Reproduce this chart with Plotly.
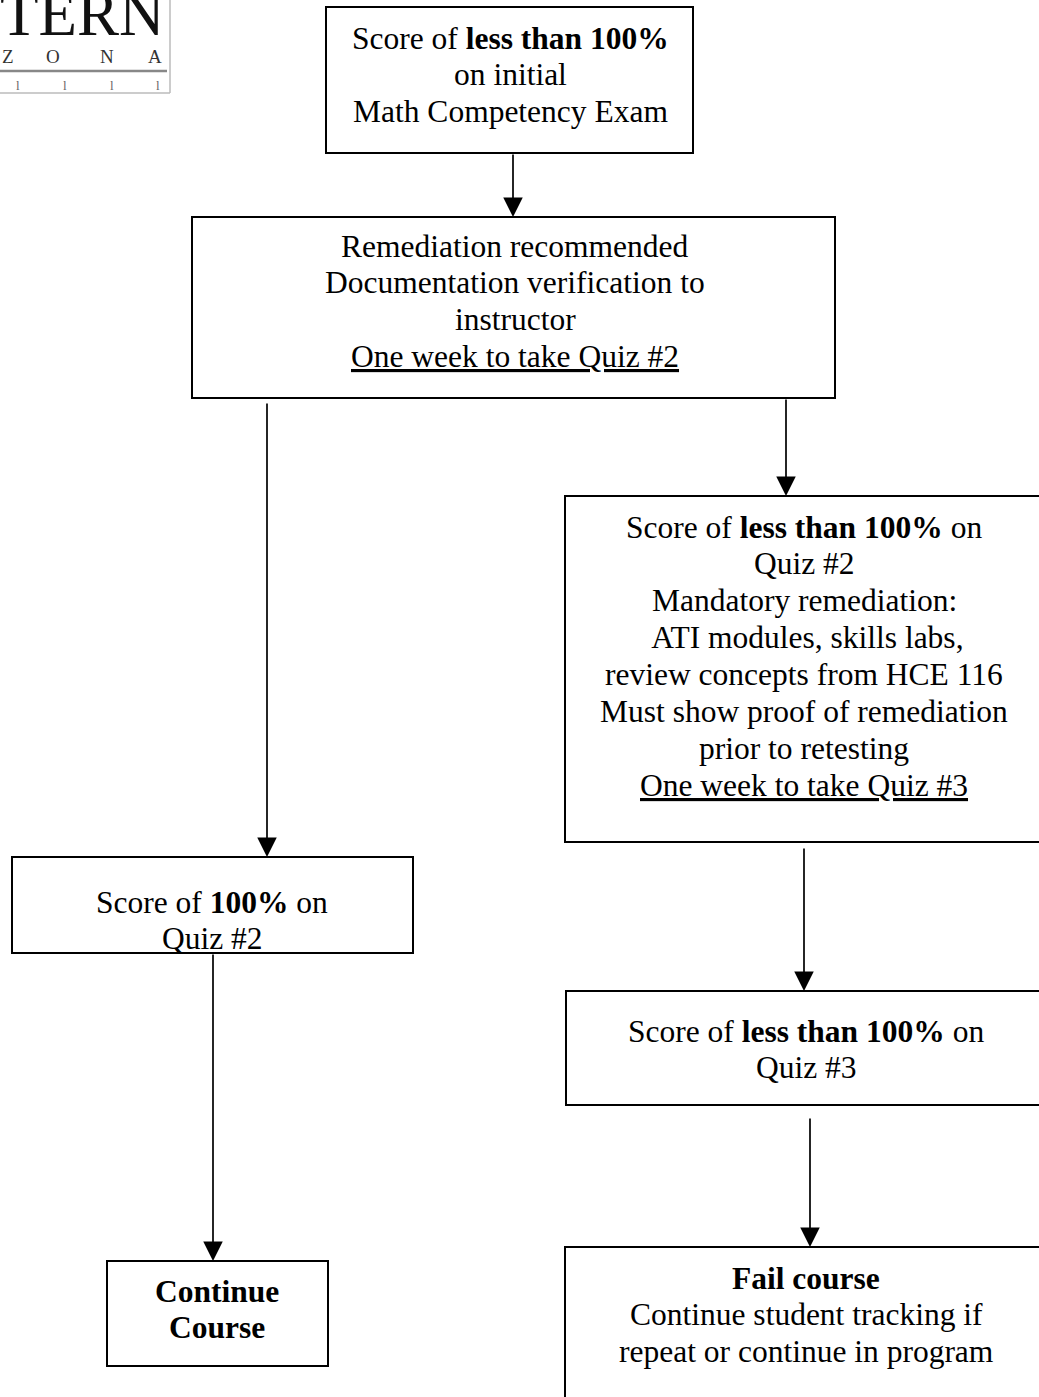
import plotly.graph_objects as go

# ---- flowchart content ----
box_lines = [
    ["Score of <b>less than 100%</b>", "on initial", "Math Competency Exam"],
    ["Remediation recommended", "Documentation verification to", "instructor",
     "<u>One week to take Quiz #2</u>"],
    ["Score of <b>less than 100%</b> on", "Quiz #2", "Mandatory remediation:",
     " ATI modules, skills labs,", "review concepts from HCE 116",
     "Must show proof of remediation", "prior to retesting",
     "<u>One week to take Quiz #3</u>"],
    ["Score of <b>100%</b> on", "Quiz #2"],
    ["Score of <b>less than 100%</b> on", "Quiz #3"],
    ["<b>Fail course</b>", "Continue student tracking if", "repeat or continue in program"],
    ["<b>Continue</b>", "<b>Course</b>"],
]
# box geometry (page pixels)
box_x0 = [326, 192, 565, 12, 566, 565, 107]
box_x1 = [693, 835, 1042, 413, 1042, 1042, 328]
box_y0 = [7, 217, 496, 857, 991, 1247, 1261]
box_y1 = [153, 398, 842, 953, 1105, 1420, 1366]
text_cx = [510, 515, 804, 212, 806, 806, 217]
text_y0 = [38, 246, 527, 902, 1031, 1278, 1291]

# arrows: x, start y, tip y
arrow_x = [513, 267, 786, 804, 810, 213]
arrow_y_from = [153, 402, 398, 847, 1117, 953]
arrow_y_to = [217, 857, 496, 991, 1247, 1261]

# logo pieces
logo_word = "TERN"
logo_letters = ["Z", "O", "N", "A"]
logo_letter_x = [8, 53, 107, 155]
logo_mark_x = [18, 65, 112, 158]

FONT = "Liberation Serif"
FS = 31.5
LINE_H = 36.9
W, H = 1039, 1397

fig = go.Figure()
shapes = []
annotations = []

for i, lines in enumerate(box_lines):
    shapes.append(dict(type="rect", xref="x", yref="y",
                       x0=box_x0[i], x1=box_x1[i], y0=box_y0[i], y1=box_y1[i],
                       line=dict(color="black", width=2), fillcolor="rgba(0,0,0,0)"))
    for j, ln in enumerate(lines):
        annotations.append(dict(x=text_cx[i], y=text_y0[i] + j * LINE_H, xref="x", yref="y",
                                text=ln, showarrow=False, xanchor="center", yanchor="middle",
                                font=dict(family=FONT, size=FS, color="black")))

for k in range(len(arrow_x)):
    annotations.append(dict(x=arrow_x[k], y=arrow_y_to[k], ax=arrow_x[k], ay=arrow_y_from[k],
                            xref="x", yref="y", axref="x", ayref="y", text="",
                            showarrow=True, arrowhead=2, arrowsize=2.3, arrowwidth=1.7,
                            arrowcolor="black"))

# logo
annotations.append(dict(x=166, y=14, xref="x", yref="y", text=logo_word, showarrow=False,
                        xanchor="right", yanchor="middle",
                        font=dict(family=FONT, size=63, color="#111")))
for lx, lt in zip(logo_letter_x, logo_letters):
    annotations.append(dict(x=lx, y=56, xref="x", yref="y", text=lt, showarrow=False,
                            xanchor="center", yanchor="middle",
                            font=dict(family=FONT, size=19, color="#333")))
for mx in logo_mark_x:
    annotations.append(dict(x=mx, y=85, xref="x", yref="y", text="l", showarrow=False,
                            xanchor="center", yanchor="middle",
                            font=dict(family=FONT, size=13, color="#666")))
shapes.append(dict(type="line", xref="x", yref="y", x0=0, x1=167, y0=71, y1=71,
                   line=dict(color="#888", width=2.5)))
shapes.append(dict(type="line", xref="x", yref="y", x0=170, x1=170, y0=0, y1=93,
                   line=dict(color="#bbb", width=1.5)))
shapes.append(dict(type="line", xref="x", yref="y", x0=0, x1=170, y0=93, y1=93,
                   line=dict(color="#bbb", width=1.5)))

fig.update_layout(
    width=W, height=H, margin=dict(l=0, r=0, t=0, b=0),
    paper_bgcolor="white", plot_bgcolor="white",
    xaxis=dict(range=[0, W], visible=False, fixedrange=True),
    yaxis=dict(range=[H, 0], visible=False, fixedrange=True),
    shapes=shapes, annotations=annotations, showlegend=False,
)
fig.write_html("out.html", config={"displayModeBar": False},
               post_script="document.body.style.margin='0';document.body.style.overflow='hidden';")
